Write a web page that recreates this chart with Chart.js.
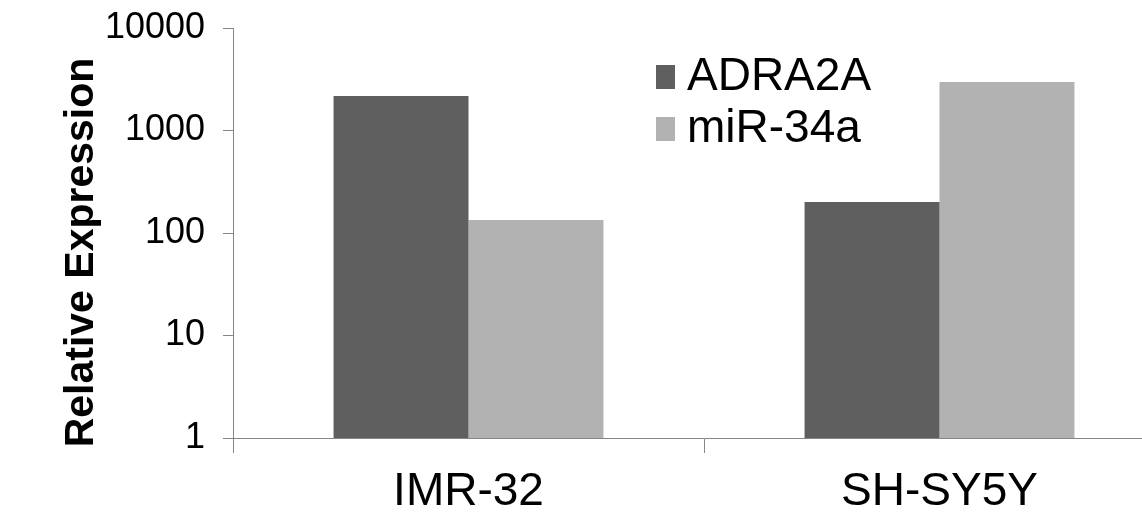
<!DOCTYPE html>
<html>
<head>
<meta charset="utf-8">
<script src="https://cdn.jsdelivr.net/npm/chart.js@4.4.1/dist/chart.umd.min.js"></script>
<style>
  html, body { margin: 0; padding: 0; background: #ffffff; overflow: hidden; }
  #wrap { width: 1180px; height: 513px; }
</style>
</head>
<body>
<div id="wrap"><canvas id="c" width="1180" height="513"></canvas></div>
<script>
// ---- data ----
const CATEGORIES = ['IMR-32', 'SH-SY5Y'];
const SERIES_NAMES = ['ADRA2A', 'miR-34a'];
const ADRA2A = [2170, 201];
const MIR34A = [134, 2970];
const Y_TICKS = [1, 10, 100, 1000, 10000];
const Y_TITLE = 'Relative Expression';

const FONT = '"Liberation Sans", Arial, Helvetica, sans-serif';
const COLORS = ['#5f5f5f', '#b2b2b2'];
const AXIS = '#868686';

function swatch(color) {
  const c = document.createElement('canvas');
  c.width = 24; c.height = 24;
  const g = c.getContext('2d');
  g.fillStyle = color; g.fillRect(0, 0, 24, 24);
  return c;
}
const SWATCHES = COLORS.map(swatch);

const yTitlePlugin = {
  id: 'yTitle',
  afterDraw(chart) {
    const ctx = chart.ctx;
    ctx.save();
    ctx.translate(93, 252.5);
    ctx.rotate(-Math.PI / 2);
    ctx.font = 'bold 41px ' + FONT;
    ctx.fillStyle = '#000000';
    ctx.textAlign = 'center';
    ctx.textBaseline = 'alphabetic';
    ctx.fillText(Y_TITLE, 0, 0);
    ctx.restore();
  }
};

const legendPlace = {
  id: 'legendPlace',
  beforeDraw(chart) {
    const lg = chart.legend;
    if (!lg) return;
    const w = lg.width, h = lg.height;
    lg.left = 656; lg.right = 656 + w;
    lg.top = 48; lg.bottom = 48 + h;
  }
};

new Chart(document.getElementById('c'), {
  type: 'bar',
  data: {
    labels: CATEGORIES,
    datasets: [
      { label: SERIES_NAMES[0], data: ADRA2A, backgroundColor: COLORS[0], borderWidth: 0 },
      { label: SERIES_NAMES[1], data: MIR34A, backgroundColor: COLORS[1], borderWidth: 0 }
    ]
  },
  options: {
    responsive: false,
    animation: false,
    devicePixelRatio: 1,
    layout: { padding: { left: 0, right: 5, top: 28, bottom: 0 } },
    datasets: { bar: { categoryPercentage: 0.573, barPercentage: 1.0 } },
    plugins: {
      tooltip: { enabled: false },
      title: { display: false },
      legend: {
        position: 'chartArea',
        align: 'start',
        labels: {
          usePointStyle: true,
          pointStyleWidth: 2,
          boxHeight: 24,
          padding: 6,
          color: '#000000',
          font: { family: FONT, size: 46 },
          generateLabels(chart) {
            const items = Chart.defaults.plugins.legend.labels.generateLabels(chart);
            items.forEach((it, i) => { it.pointStyle = SWATCHES[i]; });
            return items;
          }
        }
      }
    },
    scales: {
      x: {
        grid: { offset: true, drawOnChartArea: false, drawTicks: true, tickLength: 15, color: AXIS, lineWidth: 1 },
        border: { display: true, color: AXIS, width: 1 },
        ticks: { color: '#000000', padding: 12, font: { family: FONT, size: 46 } },
        afterFit(scale) { scale.height = 75; scale.paddingLeft = 0; scale.paddingRight = 0; }
      },
      y: {
        type: 'logarithmic',
        min: 1,
        max: 10000,
        grid: { drawOnChartArea: false, drawTicks: true, tickLength: 10, color: AXIS, lineWidth: 1 },
        border: { display: true, color: AXIS, width: 1 },
        ticks: {
          autoSkip: false,
          color: '#000000',
          padding: 18,
          font: { family: FONT, size: 36 },
          callback: (v) => String(v)
        },
        afterBuildTicks(scale) { scale.ticks = Y_TICKS.map(v => ({ value: v })); },
        afterFit(scale) { scale.width = 233; scale.paddingTop = 0; scale.paddingBottom = 0; }
      }
    }
  },
  plugins: [legendPlace, yTitlePlugin]
});
</script>
</body>
</html>
